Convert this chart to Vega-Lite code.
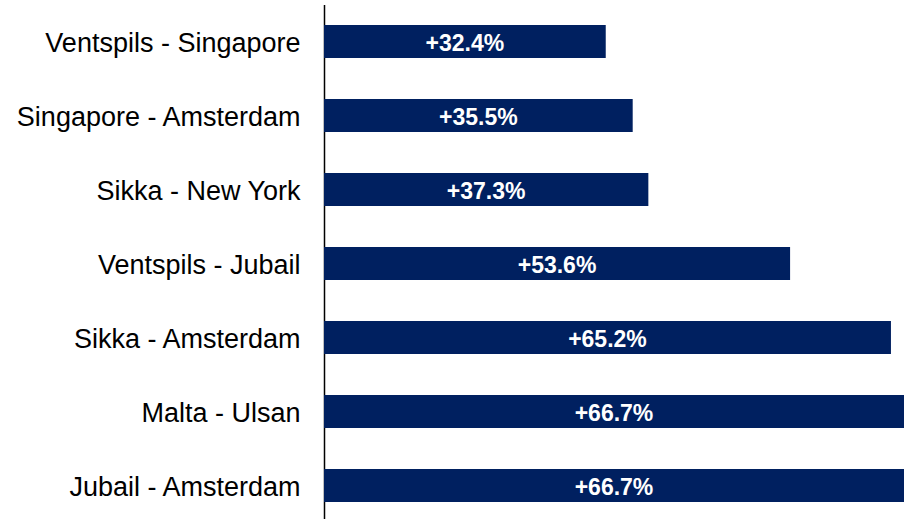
{
  "$schema": "https://vega.github.io/schema/vega-lite/v6.json",
  "width": 580,
  "height": 518,
  "autosize": {"type": "none"},
  "padding": {"left": 324, "top": 4.5, "right": 4, "bottom": 0},
  "background": "white",
  "config": {"view": {"stroke": null}, "font": "Liberation Sans"},
  "data": {"values": [
    {"route": "Ventspils - Singapore", "change": 0.324},
    {"route": "Singapore - Amsterdam", "change": 0.355},
    {"route": "Sikka - New York", "change": 0.373},
    {"route": "Ventspils - Jubail", "change": 0.536},
    {"route": "Sikka - Amsterdam", "change": 0.652},
    {"route": "Malta - Ulsan", "change": 0.667},
    {"route": "Jubail - Amsterdam", "change": 0.667}
  ]},
  "encoding": {
    "y": {"field": "route", "type": "nominal", "sort": null,
      "scale": {"paddingInner": 0.554, "paddingOuter": 0.277},
      "axis": {"title": null, "ticks": false, "labelPadding": 24, "labelFontSize": 27, "labelColor": "#000000", "labelFont": "Liberation Sans", "labelOffset": 2, "domainColor": "#000000", "domainWidth": 1.5, "grid": false, "labelLimit": 400}}
  },
  "layer": [
    {"mark": {"type": "bar", "color": "#002060"},
     "encoding": {"x": {"field": "change", "type": "quantitative", "scale": {"domain": [0, 0.667], "nice": false, "zero": true}, "axis": null}}},
    {"mark": {"type": "text", "color": "white", "fontWeight": "bold", "fontSize": 23, "font": "Liberation Sans", "baseline": "middle", "align": "center", "dy": 2},
     "encoding": {
       "x": {"field": "change", "type": "quantitative", "scale": {"domain": [0, 1.334], "nice": false, "zero": true}, "axis": null},
       "text": {"field": "change", "type": "quantitative", "format": "+.1%"}
     }}
  ],
  "resolve": {"scale": {"x": "independent"}}
}
